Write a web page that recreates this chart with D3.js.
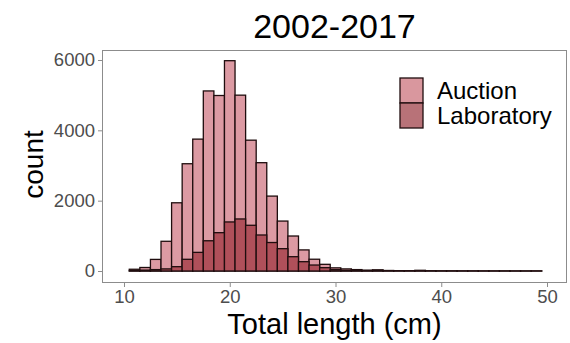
<!DOCTYPE html>
<html>
<head>
<meta charset="utf-8">
<script src="https://cdn.jsdelivr.net/npm/d3@7"></script>
<style>
  html, body { margin: 0; padding: 0; background: #fff; }
  svg { display: block; font-family: "Liberation Sans", Arial, sans-serif; }
</style>
</head>
<body>
<svg id="chart" width="570" height="343"></svg>
<script>
// Histogram bins (1 cm wide, centred on whole centimetres)
const binCenters = d3.range(11, 50);
const auctionCounts = [
  50, 100, 330, 845, 1940, 3050, 3750, 5120, 4990,
  5980, 5000, 3720, 3080, 2130, 1420, 995, 600, 335, 190,
  90, 60, 40, 25, 35, 15, 10, 10, 20, 8,
  5, 5, 4, 4, 3, 3, 3, 2, 2, 3
];
const laboratoryCounts = [
  15, 25, 40, 60, 123, 333, 530, 860, 1090,
  1395, 1480, 1300, 1024, 810, 635, 407, 265, 170, 95,
  40, 20, 12, 8, 10, 5, 3, 3, 4, 2,
  2, 2, 1, 1, 1, 1, 1, 1, 1, 1
];
const xTicks = [10, 20, 30, 40, 50];
const yTicks = [0, 2000, 4000, 6000];
const seriesNames = ["Auction", "Laboratory"];
const seriesColors = ["#dc9aa3", "#b0505a"];
const legendColors = ["#d9979e", "#b87278"];

const svg = d3.select("#chart");
const panel = { left: 102, right: 567, top: 50, bottom: 283 };

const x = d3.scaleLinear().domain([7.92, 51.89]).range([panel.left, panel.right]);
const y = d3.scaleLinear().domain([-341, 6284]).range([panel.bottom, panel.top]);

// panel background
svg.append("rect")
  .attr("x", panel.left).attr("y", panel.top)
  .attr("width", panel.right - panel.left).attr("height", panel.bottom - panel.top)
  .attr("fill", "#fff");

// bars: auction first, laboratory drawn over it
const series = [auctionCounts, laboratoryCounts];
series.forEach((vals, si) => {
  svg.append("g")
    .selectAll("rect")
    .data(binCenters.map((c, i) => ({ c, v: vals[i] })))
    .join("rect")
    .attr("x", d => x(d.c - 0.5))
    .attr("width", d => x(d.c + 0.5) - x(d.c - 0.5))
    .attr("y", d => y(d.v))
    .attr("height", d => y(0) - y(d.v))
    .attr("fill", seriesColors[si])
    .attr("stroke", "#1f0d0e")
    .attr("stroke-width", 1.3);
});

// panel border
svg.append("rect")
  .attr("x", panel.left + 0.5).attr("y", panel.top + 0.5)
  .attr("width", panel.right - panel.left - 1).attr("height", panel.bottom - panel.top - 1)
  .attr("fill", "none").attr("stroke", "#8c8c8c").attr("stroke-width", 1);

// axes
const xAxis = svg.append("g")
  .attr("transform", `translate(0,${panel.bottom})`)
  .call(d3.axisBottom(x).tickValues(xTicks).tickSize(4).tickPadding(3).tickFormat(d3.format("d")));
const yAxis = svg.append("g")
  .attr("transform", `translate(${panel.left},0)`)
  .call(d3.axisLeft(y).tickValues(yTicks).tickSize(4).tickPadding(3).tickFormat(d3.format("d")));
[xAxis, yAxis].forEach(g => {
  g.select(".domain").remove();
  g.selectAll(".tick line").attr("stroke", "#8c8c8c");
  g.selectAll(".tick text")
    .attr("fill", "#4d4d4d")
    .style("font-size", "18.5px")
    .style("font-family", "Liberation Sans, Arial, sans-serif");
});

// title and axis titles
svg.append("text")
  .attr("x", (panel.left + panel.right) / 2).attr("y", 38)
  .attr("text-anchor", "middle")
  .style("font-size", "34px").attr("fill", "#000")
  .text("2002-2017");
svg.append("text")
  .attr("x", (panel.left + panel.right) / 2).attr("y", 334)
  .attr("text-anchor", "middle")
  .style("font-size", "29px").attr("fill", "#000")
  .text("Total length (cm)");
svg.append("text")
  .attr("transform", `translate(43,${(panel.top + panel.bottom) / 2 - 2}) rotate(-90)`)
  .attr("text-anchor", "middle")
  .style("font-size", "28px").attr("fill", "#000")
  .text("count");

// legend
const legend = svg.append("g").attr("transform", "translate(400,78)");
seriesNames.forEach((name, i) => {
  legend.append("rect")
    .attr("x", 0).attr("y", i * 25)
    .attr("width", 23).attr("height", 25)
    .attr("fill", legendColors[i])
    .attr("stroke", "#1f0d0e").attr("stroke-width", 1.3);
  legend.append("text")
    .attr("x", 37).attr("y", i * 25 + 21)
    .style("font-size", "24px").attr("fill", "#000")
    .text(name);
});
</script>
</body>
</html>
